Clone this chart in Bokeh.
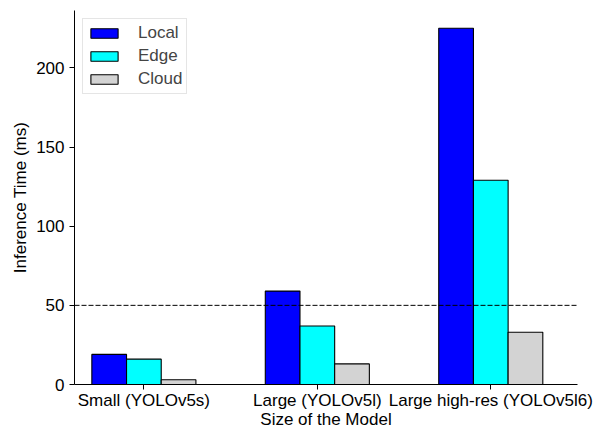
from bokeh.plotting import figure
from bokeh.models import (ColumnDataSource, Range1d, FixedTicker, Span, Legend, LegendItem)
from bokeh.transform import dodge
from bokeh.embed import file_html
from bokeh.resources import INLINE

categories = ["Small (YOLOv5s)", "Large (YOLOv5l)", "Large high-res (YOLOv5l6)"]
local = [19, 59, 225]
edge = [16, 37, 129]
cloud = [3, 13, 33]
series_names = ["Local", "Edge", "Cloud"]
series_colors = ["#0000ff", "#00ffff", "#d3d3d3"]
threshold = 50
y_ticks = [0, 50, 100, 150, 200]
x_title = "Size of the Model"
y_title = "Inference Time (ms)"

FONT = "Liberation Sans"
FS = "17px"

src = ColumnDataSource(dict(x=list(range(len(categories))), local=local, edge=edge, cloud=cloud))

p = figure(width=593, height=431, output_backend="svg", toolbar_location=None,
           x_range=Range1d(-0.4, 2.5), y_range=Range1d(0, 236.25),
           min_border_left=74, min_border_right=16, min_border_top=10, min_border_bottom=47)
p.outline_line_color = None
p.grid.grid_line_color = None

renderers = []
for i, (col, name, color) in enumerate(zip(["local", "edge", "cloud"], series_names, series_colors)):
    r = p.vbar(x=dodge("x", -0.2 + 0.2 * i), top=col, width=0.2, source=src,
               fill_color=color, line_color="black", line_width=1.1)
    renderers.append(r)

p.add_layout(Span(location=threshold, dimension="width", line_color="black",
                  line_width=1, line_dash="5 2"))

legend = Legend(items=[LegendItem(label=n, renderers=[r]) for n, r in zip(series_names, renderers)],
                location="top_left", margin=8, padding=4, spacing=3, label_height=18,
                glyph_width=34, glyph_height=12, label_standoff=17,
                label_text_font=FONT, label_text_font_size=FS,
                border_line_color="#cccccc", border_line_width=1,
                background_fill_color="white", background_fill_alpha=0.8)
p.add_layout(legend)

p.xaxis.ticker = FixedTicker(ticks=list(range(len(categories))))
p.xaxis.major_label_overrides = {i: c for i, c in enumerate(categories)}
p.yaxis.ticker = FixedTicker(ticks=y_ticks)

for ax in (p.xaxis, p.yaxis):
    ax.axis_line_color = "black"
    ax.axis_line_width = 1
    ax.major_tick_line_color = "black"
    ax.major_tick_out = 5
    ax.major_tick_in = 0
    ax.minor_tick_line_color = None
    ax.major_label_text_font = FONT
    ax.major_label_text_font_size = FS
    ax.major_label_text_color = "black"
    ax.axis_label_text_font = FONT
    ax.axis_label_text_font_size = FS
    ax.axis_label_text_font_style = "normal"
    ax.axis_label_text_color = "black"

p.xaxis.axis_label = x_title
p.yaxis.axis_label = y_title
p.xaxis.major_label_standoff = 1
p.xaxis.axis_label_standoff = -3
p.yaxis.major_label_standoff = 5
p.yaxis.axis_label_standoff = 3

open("out.html", "w").write(file_html(p, INLINE))
